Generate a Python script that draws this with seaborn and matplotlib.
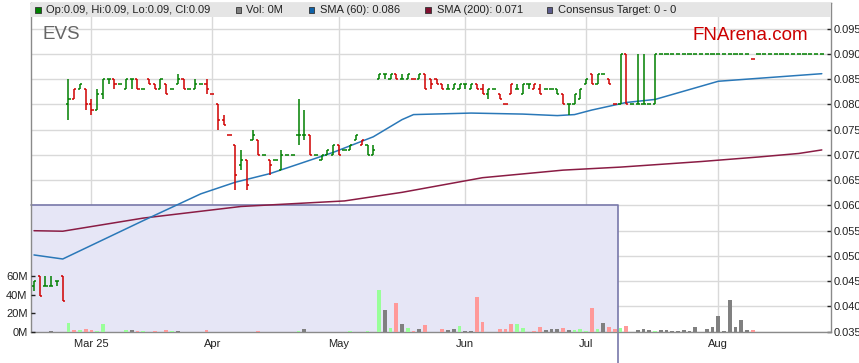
import numpy as np
import pandas as pd
import seaborn as sns
import matplotlib.pyplot as plt
from matplotlib.patches import Rectangle

# daily bars (weekdays) starting 17 Feb 2025
start_date = "2025-02-17"

opens = [
    0.044, 0.046, 0.044, 0.044, 0.045, 0.046, 0.080, 0.081, 0.083, 0.083,
    0.080, 0.079, 0.082, 0.085, 0.085, 0.084, 0.083, 0.085, 0.085, 0.083,
    0.085, 0.084, 0.083, 0.084, 0.083, 0.084, 0.085, 0.083, 0.083, 0.084,
    0.084, 0.082, 0.080, 0.077, 0.074, 0.072, 0.068, 0.069, 0.073, 0.073,
    0.070, 0.069, 0.069, 0.067, 0.070, 0.070, 0.074, 0.074, 0.074, 0.070,
    0.069, 0.070, 0.070, 0.072, 0.071, 0.071, 0.073, 0.072, 0.072, 0.070,
    0.085, 0.086, 0.085, 0.086, 0.085, 0.085, 0.085, 0.085, 0.086, 0.085,
    0.085, 0.084, 0.083, 0.083, 0.083, 0.084, 0.083, 0.084, 0.083, 0.082,
    0.083, 0.082, 0.080, 0.082, 0.083, 0.082, 0.084, 0.083, 0.083, 0.083,
    0.083, 0.083, 0.082, 0.080, 0.080, 0.081, 0.084, 0.086, 0.084, 0.086,
    0.085, 0.080, 0.080, 0.090, 0.080, 0.080, 0.080, 0.080, 0.080, 0.090,
    0.090, 0.090, 0.090, 0.090, 0.090, 0.090, 0.090, 0.090, 0.090, 0.090,
    0.090, 0.090, 0.090, 0.090, 0.090, 0.089, 0.090, 0.090, 0.090, 0.090,
    0.090, 0.090, 0.090, 0.090, 0.090, 0.090, 0.090, 0.090,
]
highs = [
    0.045, 0.046, 0.046, 0.046, 0.045, 0.046, 0.085, 0.083, 0.084, 0.083,
    0.081, 0.083, 0.085, 0.085, 0.085, 0.084, 0.085, 0.085, 0.085, 0.083,
    0.085, 0.084, 0.085, 0.084, 0.083, 0.086, 0.085, 0.083, 0.085, 0.084,
    0.085, 0.082, 0.080, 0.078, 0.074, 0.072, 0.071, 0.069, 0.075, 0.073,
    0.070, 0.069, 0.069, 0.071, 0.070, 0.070, 0.081, 0.079, 0.074, 0.070,
    0.070, 0.071, 0.072, 0.072, 0.071, 0.072, 0.074, 0.073, 0.072, 0.072,
    0.086, 0.086, 0.086, 0.086, 0.086, 0.086, 0.085, 0.086, 0.086, 0.085,
    0.085, 0.084, 0.084, 0.084, 0.084, 0.084, 0.084, 0.084, 0.084, 0.083,
    0.083, 0.082, 0.080, 0.084, 0.084, 0.084, 0.084, 0.084, 0.084, 0.083,
    0.083, 0.083, 0.082, 0.080, 0.082, 0.083, 0.085, 0.086, 0.086, 0.086,
    0.085, 0.080, 0.090, 0.090, 0.080, 0.090, 0.090, 0.080, 0.090, 0.090,
    0.090, 0.090, 0.090, 0.090, 0.090, 0.090, 0.090, 0.090, 0.090, 0.090,
    0.090, 0.090, 0.090, 0.090, 0.090, 0.089, 0.090, 0.090, 0.090, 0.090,
    0.090, 0.090, 0.090, 0.090, 0.090, 0.090, 0.090, 0.090,
]
lows = [
    0.043, 0.042, 0.044, 0.044, 0.044, 0.041, 0.077, 0.081, 0.083, 0.079,
    0.078, 0.079, 0.081, 0.084, 0.083, 0.084, 0.083, 0.083, 0.083, 0.083,
    0.084, 0.083, 0.083, 0.082, 0.083, 0.084, 0.083, 0.083, 0.083, 0.084,
    0.082, 0.082, 0.075, 0.076, 0.074, 0.063, 0.067, 0.063, 0.073, 0.070,
    0.070, 0.066, 0.069, 0.067, 0.070, 0.070, 0.072, 0.073, 0.070, 0.070,
    0.069, 0.070, 0.070, 0.070, 0.071, 0.071, 0.073, 0.072, 0.070, 0.070,
    0.085, 0.085, 0.085, 0.085, 0.085, 0.085, 0.085, 0.085, 0.083, 0.083,
    0.084, 0.083, 0.083, 0.083, 0.083, 0.083, 0.083, 0.083, 0.082, 0.081,
    0.083, 0.081, 0.080, 0.082, 0.083, 0.082, 0.083, 0.083, 0.082, 0.083,
    0.083, 0.082, 0.080, 0.078, 0.080, 0.081, 0.084, 0.084, 0.084, 0.086,
    0.084, 0.080, 0.080, 0.080, 0.080, 0.080, 0.080, 0.080, 0.080, 0.090,
    0.090, 0.090, 0.090, 0.090, 0.090, 0.090, 0.090, 0.090, 0.090, 0.090,
    0.090, 0.090, 0.090, 0.090, 0.090, 0.089, 0.090, 0.090, 0.090, 0.090,
    0.090, 0.090, 0.090, 0.090, 0.090, 0.090, 0.090, 0.090,
]
closes = [
    0.045, 0.042, 0.044, 0.044, 0.045, 0.041, 0.081, 0.083, 0.084, 0.080,
    0.079, 0.082, 0.085, 0.085, 0.084, 0.084, 0.085, 0.085, 0.083, 0.083,
    0.084, 0.083, 0.085, 0.082, 0.083, 0.085, 0.083, 0.083, 0.084, 0.084,
    0.083, 0.082, 0.077, 0.076, 0.074, 0.066, 0.069, 0.064, 0.074, 0.070,
    0.070, 0.068, 0.069, 0.070, 0.070, 0.070, 0.074, 0.074, 0.070, 0.070,
    0.070, 0.071, 0.072, 0.070, 0.071, 0.072, 0.074, 0.073, 0.070, 0.071,
    0.086, 0.086, 0.086, 0.085, 0.085, 0.086, 0.085, 0.086, 0.083, 0.084,
    0.084, 0.083, 0.083, 0.084, 0.084, 0.084, 0.084, 0.083, 0.082, 0.083,
    0.083, 0.081, 0.080, 0.084, 0.083, 0.084, 0.084, 0.084, 0.082, 0.083,
    0.083, 0.082, 0.080, 0.080, 0.082, 0.083, 0.085, 0.084, 0.086, 0.086,
    0.084, 0.080, 0.090, 0.080, 0.080, 0.080, 0.080, 0.080, 0.090, 0.090,
    0.090, 0.090, 0.090, 0.090, 0.090, 0.090, 0.090, 0.090, 0.090, 0.090,
    0.090, 0.090, 0.090, 0.090, 0.090, 0.089, 0.090, 0.090, 0.090, 0.090,
    0.090, 0.090, 0.090, 0.090, 0.090, 0.090, 0.090, 0.090,
]
# volume in millions
volumes = [
    0, 0, 0, 1.0, 0, 0, 9.5, 2.0, 2.0, 3.3,
    2.0, 0.7, 8.4, 0, 0, 0, 2.0, 2.0, 0.7, 0.7,
    0, 0.7, 0, 2.0, 0.7, 0.7, 0, 0, 0, 0,
    2.0, 0, 0, 0, 0, 0, 0, 0, 0, 0.7,
    0, 0, 0, 0, 0, 0, 0.7, 3.3, 0, 0,
    0, 0, 0, 0, 0, 1.0, 0, 0, 1.0, 0,
    44.7, 23.0, 4.4, 31.6, 8.7, 4.4, 1.0, 3.3, 7.6, 0,
    0, 3.3, 2.2, 3.3, 6.5, 1.0, 1.0, 38.0, 10.9, 0,
    0, 3.3, 3.3, 8.7, 8.7, 4.4, 0, 1.0, 5.5, 2.2,
    3.3, 3.3, 4.4, 2.2, 2.2, 3.3, 1.0, 26.0, 3.3, 9.8,
    5.5, 3.3, 4.4, 6.5, 0, 2.2, 3.3, 2.2, 1.0, 2.2,
    2.2, 1.0, 1.0, 2.2, 1.0, 5.5, 0, 3.3, 5.5, 17.5,
    1.0, 33.8, 5.5, 13.0, 2.2, 2.2, 0, 0, 0, 0,
    0, 0, 0, 0, 0, 0, 0, 0,
]
# u = up day, d = down day, n = unchanged
moves = ("udunudud"  "ud"
         "duundnundu"
         "ddudundnun"
         "ddddddudud"
         "nduunnundn"
         "uuuduuudu" "u"
         "unudnudndd"
         "ddnnunnddu"
         "nddduundd" "n"
         "nndnuuudun"
         "ddudnnnnun"
         "nnnnnnnnnn"
         "nnnnndunnn"
         "nnnnnnnn")

sma60_idx = [0, 5, 19, 29, 35, 41, 46, 52, 59, 64, 66, 76, 85, 91, 94, 97, 103, 108, 119, 137]
sma60_val = [0.0502, 0.0494, 0.0570, 0.0623, 0.0646, 0.0663, 0.0682, 0.0705, 0.0736, 0.0770,
             0.0780, 0.0783, 0.0781, 0.0778, 0.0780, 0.0789, 0.0804, 0.0810, 0.0846, 0.0861]
sma200_idx = [0, 5, 19, 36, 54, 64, 78, 92, 102, 116, 126, 133, 137]
sma200_val = [0.0550, 0.0549, 0.0575, 0.0598, 0.0609, 0.0626, 0.0655, 0.0670, 0.0676, 0.0687,
              0.0696, 0.0703, 0.0710]

target_level = 0.060
target_dropped_at = 101.6   # between day 101 and 102

month_labels = ["Mar 25", "Apr", "May", "Jun", "Jul", "Aug"]
legend_texts = ["Op:0.09, Hi:0.09, Lo:0.09, Cl:0.09", "Vol: 0M", "SMA (60): 0.086",
                "SMA (200): 0.071", "Consensus Target: 0 - 0"]

GREEN, RED = "#008000", "#d00000"
VOL_COLORS = {"u": "#99ff99", "d": "#ff9999", "n": "#808080"}
SMA60_C, SMA200_C, TARGET_C = "#2a78b8", "#8a1c44", "#7878aa"

sns.set_theme(style="white")
plt.rcParams["font.family"] = ["Liberation Sans", "DejaVu Sans"]

W, H = 859, 363
fig = plt.figure(figsize=(W / 100, H / 100), dpi=100)
left, right, top, bottom = 31, 831, 3, 331.7
ax = fig.add_axes([left / W, 1 - bottom / H, (right - left) / W, (bottom - top) / H])

n = len(closes)
idx = np.arange(n)
dates = pd.bdate_range(start_date, periods=n)
month_pos = [i for i in range(1, n) if dates[i].month != dates[i - 1].month]

xmin, xmax = -0.52, 138.6
ax.set_xlim(xmin, xmax)
ax.set_ylim(0.035, 0.1001)

# grid
ax.set_axisbelow(True)
price_ticks = np.arange(0.035, 0.0951, 0.005)
ax.set_yticks(price_ticks)
ax.set_yticklabels([f"{v:.3f}" for v in price_ticks])
ax.set_xticks(month_pos)
ax.set_xticklabels(month_labels)
ax.grid(True, color="#d9d9d9", lw=1)

# consensus target block
ax.fill_between([xmin, target_dropped_at], 0.035, target_level, color="#e6e6f6", lw=0, zorder=1)
ax.plot([xmin, target_dropped_at, target_dropped_at], [target_level, target_level, 0.0285],
        color=TARGET_C, lw=1.2, clip_on=False, zorder=2)

# moving averages
sns.lineplot(x=sma200_idx, y=sma200_val, ax=ax, color=SMA200_C, linewidth=1.1, zorder=3)
sns.lineplot(x=sma60_idx, y=sma60_val, ax=ax, color=SMA60_C, linewidth=1.1, zorder=3)

# OHLC bars
bar_cols = [RED if m == "d" else GREEN for m in moves]
tick = 0.37
ax.vlines(idx, lows, highs, colors=bar_cols, lw=1.1, zorder=4)
ax.hlines(opens, idx - tick, idx, colors=bar_cols, lw=1.1, zorder=4)
ax.hlines(closes, idx, idx + tick, colors=bar_cols, lw=1.1, zorder=4)

ax.set_xlabel("")
ax.set_ylabel("")
for s in ax.spines.values():
    s.set_color("#8a8a8a")
    s.set_linewidth(1)

# volume on its own scale
axv = ax.twinx()
axv.bar(idx, volumes, width=0.65, color=[VOL_COLORS[m] for m in moves], lw=0, zorder=2)
axv.set_ylim(0, 356)
axv.set_yticks([0, 20, 40, 60])
axv.set_yticklabels(["0M", "20M", "40M", "60M"])
axv.yaxis.tick_left()
axv.tick_params(axis="y", direction="in", length=3, width=1, labelsize=8, colors="#222222", pad=2.5,
                left=True, labelleft=True, right=False, labelright=False)
axv.grid(False)
for s in axv.spines.values():
    s.set_visible(False)

# price scale on the right (after twinx, which resets it)
ax.yaxis.tick_right()
ax.tick_params(axis="y", direction="in", length=3, width=1, labelsize=8, colors="#222222", pad=2,
               right=True, labelright=True, left=False, labelleft=False)
ax.tick_params(axis="x", direction="out", length=3, width=1, labelsize=8, colors="#222222", pad=2.5)

# header band with legend
band_h = 13.5 / (bottom - top)
axv.add_patch(Rectangle((0, 1 - band_h), 1, band_h, transform=axv.transAxes,
                        facecolor="#e5e5e5", edgecolor="none", zorder=10, clip_on=False))


def px(x, y):
    return x / W, 1 - y / H


legend_colors = [GREEN, "#808080", "#0f62a8", "#801030", "#5c5c8c"]
legend_sq_x = [35, 235.5, 308.5, 425, 546.5]
legend_txt_x = [46.5, 246.5, 320, 437, 558.3]
for c, sx, tx, label in zip(legend_colors, legend_sq_x, legend_txt_x, legend_texts):
    fig.add_artist(Rectangle(px(sx, 12.8), 5.5 / W, 5.5 / H, transform=fig.transFigure,
                             facecolor=c, edgecolor="#333333", lw=0.6, zorder=20))
    fig.text(*px(tx, 10.3), label, fontsize=8, color="#222222", va="center", ha="left", zorder=20)

fig.text(*px(42, 39.3), "EVS", fontsize=13.5, color="#666666", va="baseline", ha="left")
fig.text(*px(693, 39.7), "FNArena.com", fontsize=13.5, color="#cc0000", va="baseline", ha="left")

fig.savefig("out.png", dpi=100)
